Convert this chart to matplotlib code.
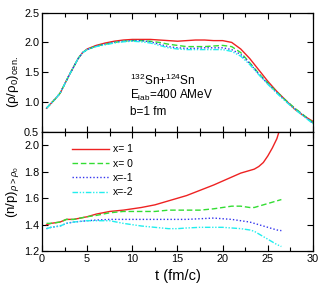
import matplotlib
matplotlib.use("Agg")
import matplotlib.pyplot as plt
from matplotlib.ticker import MultipleLocator

# ---- data: top panel (central density) ----
t_top = [0.5, 1.0, 1.5, 2.0, 2.5, 3.0, 3.5, 4.0, 4.5, 5.0, 6.0, 7.0, 8.0, 9.0,
         10.0, 11.0, 12.0, 13.0, 14.0, 15.0, 16.0, 17.0, 18.0, 19.0, 20.0, 21.0,
         22.0, 23.0, 24.0, 25.0, 26.0, 27.0, 28.0, 29.0, 30.0]
rho_x1 = [0.90, 0.98, 1.06, 1.15, 1.30, 1.45, 1.59, 1.73, 1.83, 1.89, 1.95, 1.99,
          2.02, 2.04, 2.05, 2.05, 2.05, 2.04, 2.03, 2.02, 2.03, 2.04, 2.04, 2.03,
          2.03, 2.00, 1.89, 1.73, 1.54, 1.35, 1.18, 1.03, 0.88, 0.77, 0.68]
rho_x0 = [0.90, 0.98, 1.06, 1.15, 1.30, 1.45, 1.59, 1.73, 1.83, 1.88, 1.94, 1.97,
          2.00, 2.02, 2.03, 2.03, 2.02, 2.00, 1.97, 1.95, 1.93, 1.93, 1.93, 1.94,
          1.95, 1.93, 1.83, 1.66, 1.48, 1.32, 1.17, 1.03, 0.90, 0.78, 0.66]
rho_xm1 = [0.90, 0.98, 1.06, 1.15, 1.30, 1.45, 1.59, 1.73, 1.83, 1.88, 1.94, 1.97,
           2.00, 2.02, 2.03, 2.03, 2.01, 1.97, 1.93, 1.91, 1.90, 1.90, 1.91, 1.91,
           1.91, 1.88, 1.80, 1.65, 1.47, 1.31, 1.16, 1.02, 0.89, 0.77, 0.65]
rho_xm2 = [0.90, 0.98, 1.06, 1.15, 1.30, 1.45, 1.59, 1.73, 1.83, 1.88, 1.93, 1.96,
           1.99, 2.01, 2.02, 2.01, 1.99, 1.95, 1.91, 1.89, 1.88, 1.88, 1.88, 1.88,
           1.88, 1.85, 1.77, 1.63, 1.46, 1.30, 1.15, 1.01, 0.88, 0.76, 0.64]

# ---- data: bottom panel (n/p ratio of dense matter) ----
t_bot = [0.5, 1.0, 2.0, 2.7, 3.5, 5.0, 6.0, 7.5, 9.0, 10.0, 11.0, 12.5, 14.0,
         15.0, 16.0, 17.5, 19.0, 20.0, 21.0, 22.0, 23.0, 23.5, 24.0, 24.5, 25.0,
         25.5, 26.0, 26.5]
np_x1 = [1.40, 1.41, 1.42, 1.44, 1.44, 1.46, 1.48, 1.50, 1.51, 1.52, 1.53, 1.55,
         1.58, 1.60, 1.62, 1.66, 1.70, 1.73, 1.76, 1.79, 1.81, 1.82, 1.84, 1.87,
         1.92, 1.98, 2.05, 2.16]
np_x0 = [1.41, 1.41, 1.42, 1.44, 1.44, 1.46, 1.47, 1.49, 1.50, 1.50, 1.50, 1.50,
         1.51, 1.51, 1.51, 1.51, 1.52, 1.53, 1.54, 1.54, 1.53, 1.53, 1.54, 1.55,
         1.56, 1.57, 1.58, 1.59]
np_xm1 = [1.37, 1.38, 1.39, 1.41, 1.42, 1.43, 1.435, 1.44, 1.44, 1.44, 1.44, 1.44,
          1.44, 1.44, 1.44, 1.445, 1.45, 1.445, 1.44, 1.43, 1.42, 1.41, 1.40, 1.39,
          1.38, 1.37, 1.36, 1.355]
np_xm2 = [1.37, 1.38, 1.39, 1.41, 1.42, 1.43, 1.43, 1.43, 1.41, 1.40, 1.39, 1.38,
          1.37, 1.37, 1.375, 1.38, 1.38, 1.38, 1.375, 1.37, 1.36, 1.35, 1.33, 1.31,
          1.29, 1.27, 1.25, 1.235]

labels = ["x= 1", "x= 0", "x=-1", "x=-2"]
colors = ["#ee2222", "#33dd33", "#3333ee", "#22eeee"]
styles = ["-", (0, (4, 2)), (0, (1, 1.5)), (0, (4, 1.2, 1, 1.2, 1, 1.2))]

plt.rcParams['font.family'] = ['Liberation Sans', 'DejaVu Sans']
plt.rcParams['mathtext.fontset'] = 'custom'
plt.rcParams['mathtext.rm'] = 'Liberation Sans'
plt.rcParams['mathtext.it'] = 'Liberation Sans:italic'
plt.rcParams['mathtext.bf'] = 'Liberation Sans:bold'

fig = plt.figure(figsize=(3.23, 2.91), dpi=100)
ax1 = fig.add_axes([0.130, 0.546, 0.839, 0.411])
ax2 = fig.add_axes([0.130, 0.137, 0.839, 0.409])

for ys, c, s in zip([rho_x1, rho_x0, rho_xm1, rho_xm2], colors, styles):
    ax1.plot(t_top, ys, color=c, linestyle=s, lw=1.0)
for ys, c, s, l in zip([np_x1, np_x0, np_xm1, np_xm2], colors, styles, labels):
    ax2.plot(t_bot, ys, color=c, linestyle=s, lw=1.0, label=l)

ax1.set_xlim(0, 30)
ax1.set_ylim(0.5, 2.5)
ax2.set_xlim(0, 30)
ax2.set_ylim(1.2, 2.1)
for ax in (ax1, ax2):
    ax.xaxis.set_major_locator(MultipleLocator(5))
    ax.xaxis.set_minor_locator(MultipleLocator(2.5))
    ax.tick_params(which='both', direction='in', top=True, right=True,
                   labelsize=7.8, width=0.8, pad=2, colors='black')
    ax.tick_params(which='major', length=4)
    ax.tick_params(which='minor', length=3)
    for sp in ax.spines.values():
        sp.set_linewidth(0.9)
ax1.tick_params(labelbottom=False)
ax1.set_yticks([0.5, 1.0, 1.5, 2.0, 2.5])
ax1.set_yticklabels(["0.5", "1.0", "1.5", "2.0", "2.5"])
ax2.set_yticks([1.2, 1.4, 1.6, 1.8, 2.0])

ax1.set_ylabel('(ρ/ρ$_0$)$_{\\rm cen.}$', fontsize=9.5)
ax2.set_ylabel('(n/p)$_{ρ>ρ_0}$', fontsize=9.5)
ax2.set_xlabel('t (fm/c)', fontsize=10.5, labelpad=4)
ax1.yaxis.set_label_coords(-0.078, 0.42)
ax2.yaxis.set_label_coords(-0.078, 0.5)

ax1.text(9.7, 1.37, r'$^{132}$Sn+$^{124}$Sn', fontsize=8.5, va='center')
ax1.text(9.7, 1.12, r'E$_{\rm lab}$=400 AMeV', fontsize=8.5, va='center')
ax1.text(9.7, 0.83, 'b=1 fm', fontsize=8.5, va='center')

ax2.legend(loc='upper left', bbox_to_anchor=(0.085, 0.96), frameon=False,
           fontsize=7.5, handlelength=3.5, handletextpad=0.4,
           labelspacing=0.42, borderaxespad=0.3)

fig.savefig('out.png', dpi=100)
